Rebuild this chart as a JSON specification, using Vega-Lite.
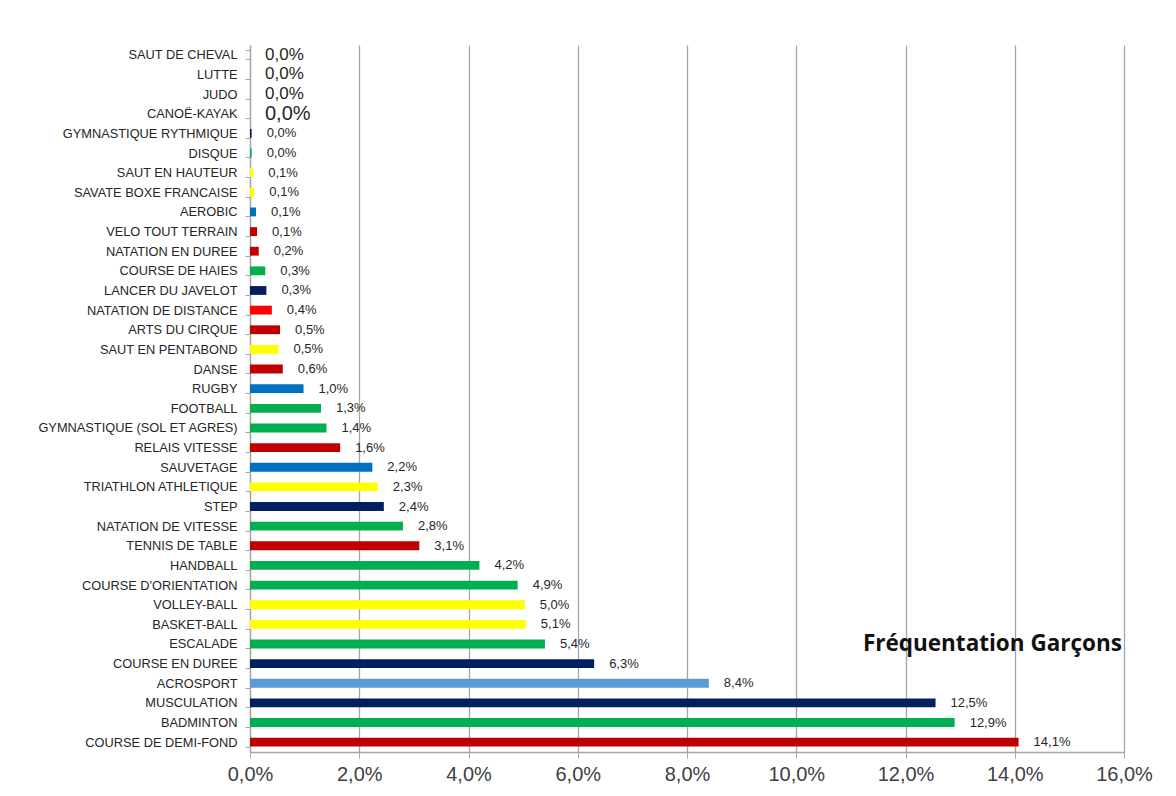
{
  "$schema": "https://vega.github.io/schema/vega-lite/v6.json",
  "autosize": "none",
  "width": 874,
  "height": 707,
  "padding": {"left": 250, "top": 45, "right": 52, "bottom": 44},
  "background": "white",
  "config": {
    "view": {"stroke": null},
    "font": "Liberation Sans"
  },
  "data": {
    "values": [
      {"activite": "SAUT DE CHEVAL", "valeur": 0, "etiquette": "0,0%", "couleur": "aucune"},
      {"activite": "LUTTE", "valeur": 0, "etiquette": "0,0%", "couleur": "aucune"},
      {"activite": "JUDO", "valeur": 0, "etiquette": "0,0%", "couleur": "aucune"},
      {"activite": "CANOË-KAYAK", "valeur": 0, "etiquette": "0,0%", "couleur": "aucune"},
      {"activite": "GYMNASTIQUE RYTHMIQUE", "valeur": 0.0003, "etiquette": "0,0%", "couleur": "marine"},
      {"activite": "DISQUE", "valeur": 0.0003, "etiquette": "0,0%", "couleur": "vert"},
      {"activite": "SAUT EN HAUTEUR", "valeur": 0.0006, "etiquette": "0,1%", "couleur": "jaune"},
      {"activite": "SAVATE BOXE FRANCAISE", "valeur": 0.0008, "etiquette": "0,1%", "couleur": "jaune"},
      {"activite": "AEROBIC", "valeur": 0.0011, "etiquette": "0,1%", "couleur": "bleu"},
      {"activite": "VELO TOUT TERRAIN", "valeur": 0.0013, "etiquette": "0,1%", "couleur": "rouge"},
      {"activite": "NATATION EN DUREE", "valeur": 0.0016, "etiquette": "0,2%", "couleur": "rouge"},
      {"activite": "COURSE DE HAIES", "valeur": 0.0028, "etiquette": "0,3%", "couleur": "vert"},
      {"activite": "LANCER DU JAVELOT", "valeur": 0.003, "etiquette": "0,3%", "couleur": "marine"},
      {"activite": "NATATION DE DISTANCE", "valeur": 0.004, "etiquette": "0,4%", "couleur": "rouge vif"},
      {"activite": "ARTS DU CIRQUE", "valeur": 0.0055, "etiquette": "0,5%", "couleur": "rouge"},
      {"activite": "SAUT EN PENTABOND", "valeur": 0.0052, "etiquette": "0,5%", "couleur": "jaune"},
      {"activite": "DANSE", "valeur": 0.006, "etiquette": "0,6%", "couleur": "rouge"},
      {"activite": "RUGBY", "valeur": 0.0098, "etiquette": "1,0%", "couleur": "bleu"},
      {"activite": "FOOTBALL", "valeur": 0.013, "etiquette": "1,3%", "couleur": "vert"},
      {"activite": "GYMNASTIQUE (SOL ET AGRES)", "valeur": 0.014, "etiquette": "1,4%", "couleur": "vert"},
      {"activite": "RELAIS VITESSE", "valeur": 0.0165, "etiquette": "1,6%", "couleur": "rouge"},
      {"activite": "SAUVETAGE", "valeur": 0.0224, "etiquette": "2,2%", "couleur": "bleu"},
      {"activite": "TRIATHLON ATHLETIQUE", "valeur": 0.0234, "etiquette": "2,3%", "couleur": "jaune"},
      {"activite": "STEP", "valeur": 0.0245, "etiquette": "2,4%", "couleur": "marine"},
      {"activite": "NATATION DE VITESSE", "valeur": 0.028, "etiquette": "2,8%", "couleur": "vert"},
      {"activite": "TENNIS DE TABLE", "valeur": 0.031, "etiquette": "3,1%", "couleur": "rouge"},
      {"activite": "HANDBALL", "valeur": 0.042, "etiquette": "4,2%", "couleur": "vert"},
      {"activite": "COURSE D'ORIENTATION", "valeur": 0.049, "etiquette": "4,9%", "couleur": "vert"},
      {"activite": "VOLLEY-BALL", "valeur": 0.0503, "etiquette": "5,0%", "couleur": "jaune"},
      {"activite": "BASKET-BALL", "valeur": 0.0505, "etiquette": "5,1%", "couleur": "jaune"},
      {"activite": "ESCALADE", "valeur": 0.054, "etiquette": "5,4%", "couleur": "vert"},
      {"activite": "COURSE EN DUREE", "valeur": 0.063, "etiquette": "6,3%", "couleur": "marine"},
      {"activite": "ACROSPORT", "valeur": 0.084, "etiquette": "8,4%", "couleur": "bleu clair"},
      {"activite": "MUSCULATION", "valeur": 0.1255, "etiquette": "12,5%", "couleur": "marine"},
      {"activite": "BADMINTON", "valeur": 0.129, "etiquette": "12,9%", "couleur": "vert"},
      {"activite": "COURSE DE DEMI-FOND", "valeur": 0.1407, "etiquette": "14,1%", "couleur": "rouge"}
    ]
  },
  "encoding": {
    "y": {
      "field": "activite",
      "type": "nominal",
      "sort": null,
      "title": null,
      "scale": {"paddingInner": 0.55, "paddingOuter": 0.275},
      "axis": {
        "tickBand": "extent",
        "tickSize": 5,
        "tickColor": "#A6A6A6",
        "domainColor": "#A6A6A6",
        "domainWidth": 1.3,
        "labelFontSize": 12.8,
        "labelLimit": 260,
        "labelColor": "#262626",
        "labelPadding": 8,
        "grid": false
      }
    },
    "x": {
      "field": "valeur",
      "type": "quantitative",
      "title": null,
      "scale": {"domain": [0, 0.16], "nice": false},
      "axis": {
        "values": [0, 0.02, 0.04, 0.06, 0.08, 0.1, 0.12, 0.14, 0.16],
        "labelExpr": "replace(format(datum.value, '.1%'), '.', ',')",
        "grid": true,
        "gridColor": "#A6A6A6",
        "gridWidth": 1.3,
        "tickColor": "#A6A6A6",
        "tickSize": 6,
        "domainColor": "#A6A6A6",
        "domainWidth": 1.3,
        "labelFontSize": 20,
        "labelColor": "#404040",
        "labelPadding": 6,
        "labelFlush": false
      }
    }
  },
  "layer": [
    {
      "mark": {"type": "bar"},
      "encoding": {
        "color": {
          "field": "couleur",
          "type": "nominal",
          "legend": null,
          "scale": {
            "domain": ["aucune", "rouge", "rouge vif", "vert", "marine", "jaune", "bleu", "bleu clair"],
            "range": ["transparent", "#C00000", "#FF0000", "#00B050", "#002060", "#FFFF00", "#0070C0", "#5B9BD5"]
          }
        }
      }
    },
    {
      "mark": {"type": "text", "align": "left", "baseline": "middle", "dx": 15, "color": "#262626"},
      "encoding": {
        "text": {"field": "etiquette"},
        "size": {
          "condition": [
            {"test": "indexof(['SAUT DE CHEVAL', 'LUTTE', 'JUDO'], datum.activite) >= 0", "value": 17},
            {"test": "datum.activite === 'CANOË-KAYAK'", "value": 20}
          ],
          "value": 13
        }
      }
    },
    {
      "transform": [{"filter": "datum.activite === 'ESCALADE'"}],
      "mark": {"type": "text", "align": "right", "baseline": "middle", "font": "Open Sans", "fontSize": 22.5, "fontWeight": "bold", "color": "#111111", "dx": -2, "text": "Fréquentation Garçons"},
      "encoding": {
        "x": {"datum": 0.16, "type": "quantitative"}
      }
    }
  ]
}
